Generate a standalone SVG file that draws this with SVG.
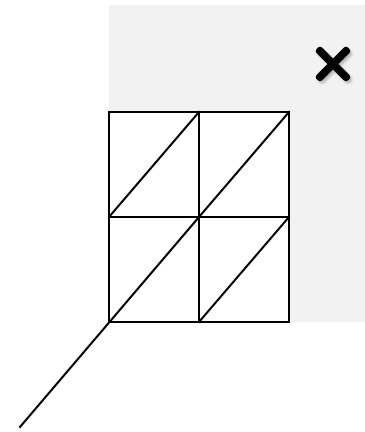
<svg xmlns="http://www.w3.org/2000/svg" width="365" height="432" viewBox="0 0 365 432">
<defs>
<style>
.ln{stroke:#000;stroke-width:2;fill:none;stroke-linecap:square}
.x{stroke:#000;stroke-width:8;stroke-linecap:round;fill:none}
.xs{stroke:#888;stroke-width:8;stroke-linecap:round;fill:none;opacity:0.5}
</style>
<filter id="blur" x="-20%" y="-20%" width="140%" height="140%"><feGaussianBlur stdDeviation="1.2"/></filter>
</defs>
<rect width="365" height="432" fill="#fff"/>
<g id="panel">
<rect x="109" y="5" width="256" height="317" fill="#f2f2f2"/>
</g>
<g id="close">
<g filter="url(#blur)" transform="translate(2,2.5)">
<path class="xs" d="M320 51 L346 77 M346 51 L320 77"/>
</g>
<path class="x" d="M320 51 L346 77 M346 51 L320 77"/>
</g>
<g id="grid">
<rect x="109" y="112" width="180" height="210" fill="#fff"/>
<path class="ln" d="M109 112 H289 V322 H109 Z M199 112 V322 M109 217 H289"/>
<path class="ln" d="M109 217 L199 112 M199 217 L289 112 M199 322 L289 217"/>
</g>
<g id="connectors">
<path class="ln" d="M20 427 L199 217"/>
</g>
</svg>
